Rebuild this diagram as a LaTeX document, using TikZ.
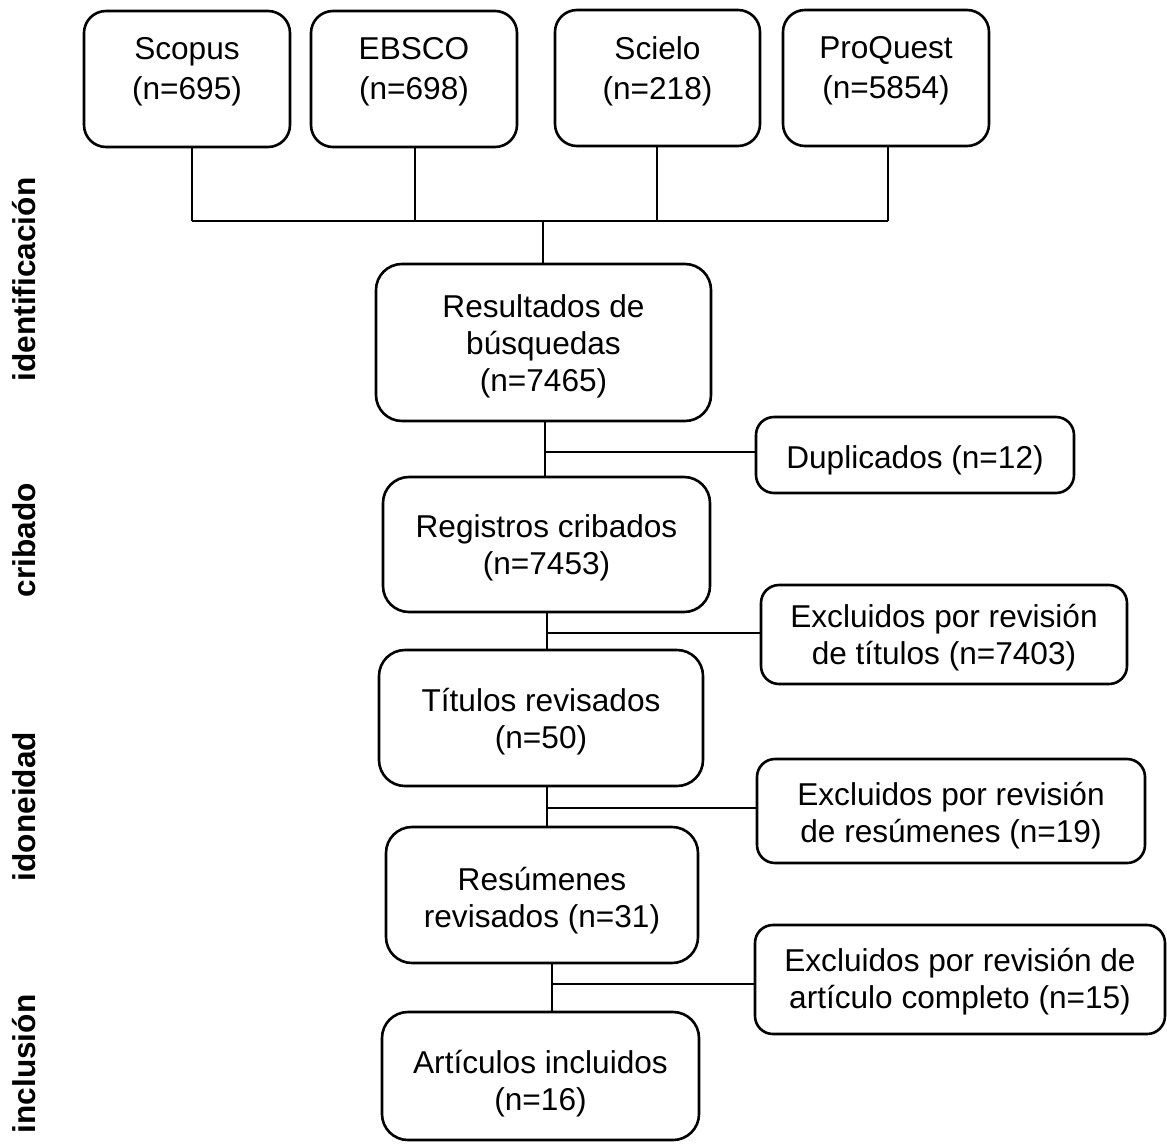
\documentclass[tikz,border=0pt]{standalone}
\usepackage{fontspec}
\setmainfont{Liberation Sans}
\begin{document}
\begin{tikzpicture}[x=1pt,y=-1pt,
  ln/.style={line width=2.6pt},
  bx/.style={draw, line width=2.6pt, rounded corners=#1, inner sep=0pt},
  txt/.style={font=\fontsize{31.6}{37}\selectfont, align=center, inner sep=0pt},
  toptxt/.style={font=\fontsize{31.6}{40}\selectfont, align=center, inner sep=0pt},
  lab/.style={font=\bfseries\fontsize{31.6}{37}\selectfont, rotate=90, anchor=base, inner sep=0pt}]
\useasboundingbox (0,0) rectangle (1167,1143);

% top sources
\node[bx=22, minimum width=206pt, minimum height=136pt] (scopus) at (187,79) {};
\node[bx=22, minimum width=206pt, minimum height=136pt] (ebsco) at (414,79) {};
\node[bx=22, minimum width=205pt, minimum height=136pt] (scielo) at (657.5,78) {};
\node[bx=22, minimum width=206pt, minimum height=136pt] (proquest) at (886,78) {};
\node[toptxt] (scopusT) at (187,71.5) {Scopus\\(n=695)};
\node[toptxt] (ebscoT) at (414,71.5) {EBSCO\\(n=698)};
\node[toptxt] (scieloT) at (657.5,71) {Scielo\\(n=218)};
\node[toptxt] (proquestT) at (886,71) {ProQuest\\(n=5854)};

% main column
\node[bx=26, minimum width=335pt, minimum height=157pt] (res) at (543.5,342.5) {};
\node[txt] (resT) at (543.5,346.7) {Resultados de\\búsquedas\\(n=7465)};
\node[bx=26, minimum width=327pt, minimum height=135pt] (reg) at (546.5,544.5) {};
\node[txt] (regT) at (546.5,548.3) {Registros cribados\\(n=7453)};
\node[bx=26, minimum width=324pt, minimum height=136pt] (tit) at (541,718) {};
\node[txt] (titT) at (541,721.7) {Títulos revisados\\(n=50)};
\node[bx=26, minimum width=312pt, minimum height=136pt] (resu) at (542,895) {};
\node[txt] (resuT) at (542,900.7) {Resúmenes\\revisados (n=31)};
\node[bx=26, minimum width=317pt, minimum height=128pt] (art) at (540.5,1076) {};
\node[txt] (artT) at (540.5,1084) {Artículos incluidos\\(n=16)};

% side boxes
\node[bx=18, minimum width=318pt, minimum height=76pt] (dup) at (915,455) {};
\node[txt] (dupT) at (915,460) {Duplicados (n=12)};
\node[bx=18, minimum width=366pt, minimum height=99pt] (exT) at (944,634.5) {};
\node[txt] (exTT) at (944,638) {Excluidos por revisión\\de títulos (n=7403)};
\node[bx=18, minimum width=388pt, minimum height=104pt] (exR) at (951,811) {};
\node[txt] (exRT) at (951,816) {Excluidos por revisión\\de resúmenes (n=19)};
\node[bx=18, minimum width=410pt, minimum height=109pt] (exC) at (960,979.5) {};
\node[txt] (exCT) at (960,982) {Excluidos por revisión de\\artículo completo (n=15)};

% phase labels
\node[lab] (l1) at (35,279.5) {identificación};
\node[lab] (l2) at (35,540) {cribado};
\node[lab] (l3) at (35,806.5) {idoneidad};
\node[lab] (l4) at (35,1064) {inclusión};

% top connectors
\coordinate (b1) at (192,221);
\coordinate (b2) at (415,221);
\coordinate (b3) at (657,221);
\coordinate (b4) at (888,221);
\coordinate (b0) at (543,221);
\draw[ln] (b1 |- scopus.south) -- (b1);
\draw[ln] (b2 |- ebsco.south) -- (b2);
\draw[ln] (b3 |- scielo.south) -- (b3);
\draw[ln] (b4 |- proquest.south) -- (b4);
\draw[ln] (b1) -- (b4);
\draw[ln] (b0) -- (b0 |- res.north);

% main connectors with side branches
\coordinate (j1) at (545,452);
\coordinate (j2) at (547,633);
\coordinate (j3) at (547,808);
\coordinate (j4) at (552,984);
\draw[ln] (j1 |- res.south) -- (j1 |- reg.north);
\draw[ln] (j1) -- (j1 -| dup.west);
\draw[ln] (j2 |- reg.south) -- (j2 |- tit.north);
\draw[ln] (j2) -- (j2 -| exT.west);
\draw[ln] (j3 |- tit.south) -- (j3 |- resu.north);
\draw[ln] (j3) -- (j3 -| exR.west);
\draw[ln] (j4 |- resu.south) -- (j4 |- art.north);
\draw[ln] (j4) -- (j4 -| exC.west);
\end{tikzpicture}
\end{document}
